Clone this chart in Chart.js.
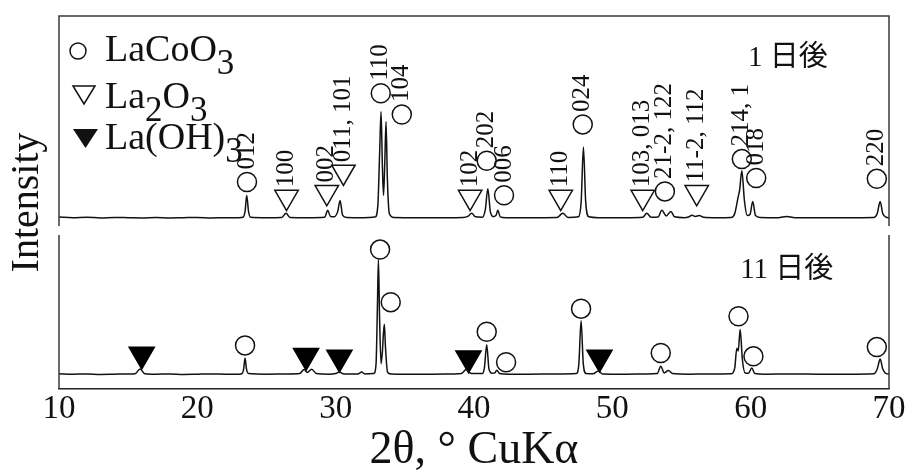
<!DOCTYPE html>
<html>
<head>
<meta charset="utf-8">
<script src="https://cdn.jsdelivr.net/npm/chart.js@4.4.1/dist/chart.umd.min.js"></script>
<style>
  html, body { margin: 0; padding: 0; background: #fff; }
  #wrap { position: relative; width: 910px; height: 471px; }
</style>
</head>
<body>
<div id="wrap"><canvas id="chart"></canvas></div>
<script>
'use strict';

const SERIF = '"Liberation Serif", "Times New Roman", serif';
const SERIF_JP = '"Liberation Serif", "Noto Sans CJK JP", serif';

// x axis (2θ) tick labels
const xTicks = [10, 20, 30, 40, 50, 60, 70];

// pattern after 1 day: [2θ, intensity]
const topPattern = [
  [10.0, 4.3], [11, 4.0], [12, 4.2], [13, 3.9], [14, 4.1], [15, 4.0], [16, 3.9], [17, 4.1],
  [18, 3.9], [19, 4.0], [20, 4.1], [21, 3.9], [22, 4.0], [23.0, 4.0],
  [23.3, 4.2], [23.45, 7.0], [23.57, 14.6], [23.7, 7.0], [23.85, 4.2],
  [25, 4.0], [26.1, 4.1], [26.41, 6.1], [26.7, 4.1],
  [28, 4.0], [29.2, 4.2], [29.43, 7.5], [29.62, 4.6], [29.9, 4.5], [30.15, 7.0], [30.32, 12.2], [30.5, 5.2], [30.8, 4.1],
  [32, 4.0], [32.85, 4.3], [33.05, 10], [33.18, 35], [33.28, 54.5], [33.38, 28], [33.46, 14.6],
  [33.55, 30], [33.64, 49.8], [33.74, 22], [33.88, 6], [34.2, 4.1],
  [36, 4.0], [38, 4.0], [39.2, 4.1], [39.55, 4.6], [39.84, 6.1], [40.1, 4.4], [40.6, 4.2],
  [40.82, 8], [41.0, 17.8], [41.18, 7], [41.4, 4.5], [41.6, 5.2], [41.72, 7.5], [41.9, 4.4], [42.3, 4.0],
  [44, 4.0], [46.0, 4.1], [46.42, 6.1], [46.8, 4.1], [47.55, 4.4], [47.75, 12], [47.91, 37.6], [48.07, 12], [48.3, 4.4], [49, 4.0],
  [51, 4.0], [52.2, 4.2], [52.49, 6.1], [52.8, 4.2], [53.3, 4.3], [53.58, 7.5], [53.9, 4.8], [54.23, 7.0], [54.5, 4.4],
  [55.2, 4.0], [55.5, 4.3], [55.77, 5.2], [56.0, 4.6], [56.28, 5.0], [56.6, 4.2], [57.5, 4.0],
  [58.6, 4.1], [58.85, 6], [59.1, 14], [59.2, 17], [59.36, 26.3], [59.55, 12], [59.75, 5],
  [59.95, 5.5], [60.15, 11.7], [60.35, 5], [60.7, 4.1],
  [62, 4.0], [62.6, 4.6], [63.2, 4.0], [65, 4.0], [67, 4.0], [68.9, 4.1], [69.15, 6], [69.36, 11.7], [69.55, 6], [69.8, 4.2], [70, 4.0]
];

// pattern after 11 days
const bottomPattern = [
  [10.0, 7.2], [11, 7.0], [12, 7.1], [13, 6.9], [14, 7.0], [15, 7.1], [15.5, 7.2], [15.86, 9.5], [16.2, 7.2],
  [17, 7.0], [18, 7.1], [19, 6.9], [20, 7.0], [21, 7.1], [22, 7.0], [23.0, 7.0],
  [23.25, 7.4], [23.35, 9.5], [23.45, 14.7], [23.55, 9.5], [23.7, 7.3],
  [25, 7.0], [26.5, 7.1], [27.4, 7.3], [27.72, 9.2], [27.95, 7.8], [28.27, 9.4], [28.6, 7.3],
  [29.5, 7.0], [30.0, 7.3], [30.27, 8.0], [30.6, 7.1], [31.6, 7.1], [31.88, 8.0], [32.1, 7.1],
  [32.75, 7.3], [32.92, 12], [33.02, 40], [33.09, 61.6], [33.17, 35], [33.28, 12], [33.38, 18],
  [33.45, 26], [33.52, 30.8], [33.6, 20], [33.75, 8], [34.0, 7.1],
  [35, 7.0], [37, 7.0], [38.5, 7.1], [39.1, 7.3], [39.43, 9.2], [39.8, 7.3], [40.6, 7.3],
  [40.75, 10], [40.92, 21.0], [41.08, 9.5], [41.3, 7.4], [41.5, 7.6], [41.65, 8.9], [41.85, 7.3], [42.5, 7.0],
  [44, 7.0], [46, 7.1], [47.4, 7.3], [47.58, 12], [47.74, 32.4], [47.9, 12], [48.1, 7.3], [48.6, 7.2], [48.99, 8.5], [49.3, 7.1],
  [51, 7.0], [52.5, 7.1], [53.25, 7.3], [53.5, 10.8], [53.75, 7.6], [54.06, 8.8], [54.35, 7.3], [55.5, 7.0], [57, 7.1],
  [58.6, 7.2], [58.85, 10], [59.0, 19.4], [59.1, 18], [59.24, 28.3], [59.4, 14], [59.6, 7.6],
  [59.85, 7.5], [60.08, 10.0], [60.3, 7.3], [61, 7.0], [63, 7.1], [65, 7.0], [67, 7.0],
  [68.9, 7.2], [69.15, 9.5], [69.36, 14.2], [69.55, 9.5], [69.8, 7.3], [70, 7.1]
];

// phase markers (marker centre) and their hkl labels
const topLaCoO3 = [[23.59, 21.0], [33.26, 63.2], [34.78, 53.1], [40.92, 31.1], [42.17, 14.7],
  [47.86, 48.4], [53.8, 16.5], [59.36, 31.9], [60.4, 22.9], [69.12, 22.5]];
const topLaCoO3Hkl = ['012', '110', '104', '202', '006', '024', '21-2, 122', '214, 122', '018', '220'];

const topLa2O3 = [[26.45, 13.8], [29.36, 16.1], [30.56, 25.8], [39.72, 13.8], [46.27, 13.8], [52.2, 13.8], [56.1, 16.1]];
const topLa2O3Hkl = ['100', '002', '011, 101', '102', '110', '103, 013', '11-2, 112'];

const bottomLaCoO3 = [[23.45, 20.7], [33.21, 66.3], [33.98, 41.3], [40.92, 27.2], [42.32, 12.7],
  [47.74, 38.2], [53.5, 17.1], [59.12, 34.6], [60.2, 15.5], [69.12, 19.9]];
const bottomLaOH3 = [[15.98, 16.4], [27.86, 15.8], [30.27, 15.0], [39.6, 14.6], [49.07, 15.0]];

// legend rows: [text, isSubscript]
const legendRows = [
  { marker: 'circle', parts: [['LaCoO', false], ['3', true]] },
  { marker: 'triangle', parts: [['La', false], ['2', true], ['O', false], ['3', true]] },
  { marker: 'filled', parts: [['La(OH)', false], ['3', true]] }
];

const dayLabels = [
  { text: '1 日後', axis: 'yTop', at: [59.8, 79.8], box: [57.2, 69.4, 98.6, 67.6] },
  { text: '11 日後', axis: 'yBot', at: [59.24, 56.3] }
];

// panel extents on their own axes
const topPanel = [0, 100];
const bottomPanel = [0, 73.2];

const toXY = arr => arr.map(p => ({ x: p[0], y: p[1] }));

const markerBase = {
  showLine: false,
  borderColor: '#111',
  borderWidth: 1.5
};

const decor = {
  id: 'decor',
  afterDatasetsDraw(chart) {
    const { ctx, chartArea, scales } = chart;
    const { left, right, top } = chartArea;
    const yT = scales.yTop, yB = scales.yBot, x = scales.x;
    ctx.save();

    // frames of both panels
    ctx.strokeStyle = '#3a3a3a';
    ctx.lineWidth = 1.5;
    const tTop = yT.getPixelForValue(topPanel[1]);
    const tBot = yT.getPixelForValue(topPanel[0]);
    const bTop = yB.getPixelForValue(bottomPanel[1]);
    const bBot = yB.getPixelForValue(bottomPanel[0]);
    ctx.beginPath();
    ctx.moveTo(left, tBot); ctx.lineTo(left, tTop); ctx.lineTo(right, tTop); ctx.lineTo(right, tBot);
    ctx.moveTo(left, bTop); ctx.lineTo(left, bBot);
    ctx.moveTo(right, bTop); ctx.lineTo(right, bBot);
    ctx.stroke();

    // hkl labels, rotated, above each marker
    ctx.fillStyle = '#111';
    ctx.font = '25px ' + SERIF;
    ctx.textAlign = 'left';
    ctx.textBaseline = 'middle';
    [[2, topLaCoO3Hkl], [3, topLa2O3Hkl]].forEach(([idx, labels]) => {
      chart.getDatasetMeta(idx).data.forEach((el, i) => {
        const r = el.options.radius;
        const edge = el.options.pointStyle === 'triangle' ? el.y - r / 2 : el.y - r;
        ctx.save();
        ctx.translate(el.x, edge - 3);
        ctx.rotate(-Math.PI / 2);
        ctx.fillText(labels[i], 0, 0);
        ctx.restore();
      });
    });

    // day labels
    dayLabels.forEach(d => {
      const sc = scales[d.axis];
      if (d.box) {
        ctx.fillStyle = '#fff';
        const x0 = x.getPixelForValue(d.box[0]), x1 = x.getPixelForValue(d.box[1]);
        const y0 = sc.getPixelForValue(d.box[2]), y1 = sc.getPixelForValue(d.box[3]);
        ctx.fillRect(x0, y0, x1 - x0, y1 - y0);
      }
      ctx.fillStyle = '#111';
      ctx.font = '29px ' + SERIF_JP;
      ctx.textBaseline = 'middle';
      ctx.fillText(d.text, x.getPixelForValue(d.at[0]), sc.getPixelForValue(d.at[1]));
    });

    // legend
    const baselines = [45, 92, 133];
    ctx.textBaseline = 'alphabetic';
    legendRows.forEach((row, i) => {
      const base = top + baselines[i];
      ctx.strokeStyle = '#111';
      ctx.fillStyle = '#111';
      ctx.lineWidth = 1.5;
      ctx.beginPath();
      if (row.marker === 'circle') {
        ctx.arc(left + 19, base - 10, 8, 0, Math.PI * 2);
        ctx.stroke();
      } else if (row.marker === 'triangle') {
        ctx.moveTo(left + 14, base - 22); ctx.lineTo(left + 36, base - 22); ctx.lineTo(left + 25, base - 4);
        ctx.closePath();
        ctx.stroke();
      } else {
        ctx.moveTo(left + 14, base - 20); ctx.lineTo(left + 39, base - 20); ctx.lineTo(left + 26.5, base - 1);
        ctx.closePath();
        ctx.fill();
      }
      let tx = left + 46;
      row.parts.forEach(([s, sub]) => {
        ctx.font = (sub ? '35px ' : '38px ') + SERIF;
        ctx.fillText(s, tx, sub ? base + 13 : base);
        tx += ctx.measureText(s).width;
      });
    });
    ctx.restore();
  }
};

const chartData = {
  datasets: [
    { data: toXY(topPattern), yAxisID: 'yTop', showLine: true, borderColor: '#111', borderWidth: 1.5,
      pointRadius: 0, cubicInterpolationMode: 'monotone' },
    { data: toXY(bottomPattern), yAxisID: 'yBot', showLine: true, borderColor: '#111', borderWidth: 1.5,
      pointRadius: 0, cubicInterpolationMode: 'monotone' },
    { ...markerBase, data: toXY(topLaCoO3), yAxisID: 'yTop', pointStyle: 'circle', pointRadius: 9.5,
      backgroundColor: 'rgba(0,0,0,0)' },
    { ...markerBase, data: toXY(topLa2O3), yAxisID: 'yTop', pointStyle: 'triangle', pointRotation: 180,
      pointRadius: 13.5, backgroundColor: 'rgba(0,0,0,0)' },
    { ...markerBase, data: toXY(bottomLaCoO3), yAxisID: 'yBot', pointStyle: 'circle', pointRadius: 9.5,
      backgroundColor: 'rgba(0,0,0,0)' },
    { ...markerBase, data: toXY(bottomLaOH3), yAxisID: 'yBot', pointStyle: 'triangle', pointRotation: 180,
      pointRadius: 14.5, backgroundColor: '#000', borderColor: '#000' }
  ]
};

const chartConfig = {
  type: 'scatter',
  data: chartData,
  options: {
    responsive: true,
    maintainAspectRatio: false,
    animation: false,
    clip: false,
    layout: { padding: { left: 6, right: 21, top: 15, bottom: 0 } },
    plugins: { legend: { display: false }, tooltip: { enabled: false } },
    scales: {
      x: {
        type: 'linear', min: 10, max: 70,
        afterBuildTicks: axis => { axis.ticks = xTicks.map(v => ({ value: v })); },
        ticks: { padding: 4, color: '#111', font: { family: SERIF, size: 33, lineHeight: 1 } },
        grid: { display: false, drawTicks: false },
        border: { display: true, color: '#222', width: 1.5 },
        title: { display: true, text: '2θ, ° CuKα', color: '#111',
          font: { family: SERIF, size: 46, lineHeight: 0.85 }, padding: { top: 1, bottom: 1 } }
      },
      yTop: {
        type: 'linear', position: 'left', min: -77.5, max: 100,
        ticks: { display: false },
        grid: { display: false, drawTicks: false },
        border: { display: false },
        title: { display: true, text: 'Intensity', color: '#111',
          font: { family: SERIF, size: 40, lineHeight: 1 }, padding: { top: 1, bottom: 12 } }
      },
      yBot: { type: 'linear', display: false, min: 0, max: 177.5 }
    }
  },
  plugins: [decor]
};

const myChart = new Chart(document.getElementById('chart'), chartConfig);
</script>
</body>
</html>
